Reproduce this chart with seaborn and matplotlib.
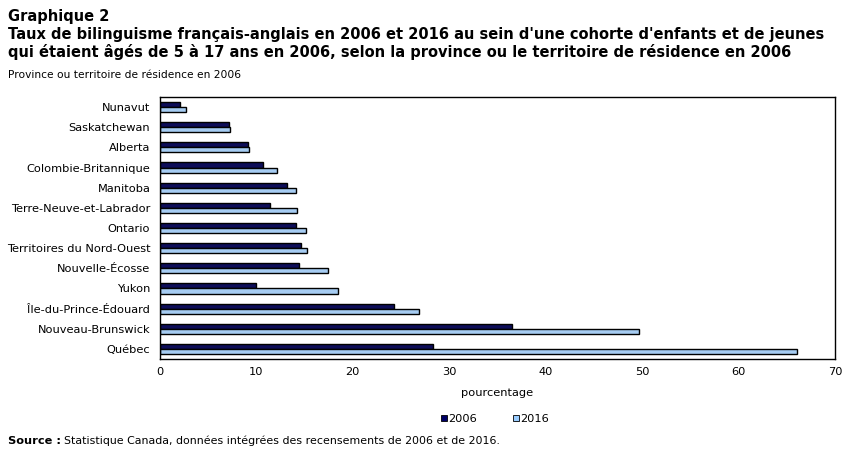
import matplotlib
matplotlib.use("Agg")
import matplotlib.pyplot as plt
import seaborn as sns
import pandas as pd
from matplotlib.ticker import MultipleLocator, FixedLocator
from matplotlib.lines import Line2D

regions = ["Nunavut", "Saskatchewan", "Alberta", "Colombie-Britannique", "Manitoba",
           "Terre-Neuve-et-Labrador", "Ontario", "Territoires du Nord-Ouest",
           "Nouvelle-Écosse", "Yukon", "Île-du-Prince-Édouard", "Nouveau-Brunswick", "Québec"]
val_2006 = [2.1, 7.2, 9.1, 10.7, 13.2, 11.4, 14.1, 14.6, 14.4, 10.0, 24.3, 36.5, 28.3]
val_2016 = [2.7, 7.3, 9.2, 12.1, 14.1, 14.2, 15.1, 15.2, 17.4, 18.5, 26.9, 49.7, 66.1]
years = ["2006", "2016"]
colors = ["#000066", "#99CCFF"]

df = pd.DataFrame({
    "region": regions * 2,
    "annee": [years[0]] * len(regions) + [years[1]] * len(regions),
    "valeur": val_2006 + val_2016,
})

sns.set_style("white")
plt.rcParams["font.family"] = ["DejaVu Sans"]
plt.rcParams["text.color"] = "black"
plt.rcParams["axes.labelcolor"] = "black"
plt.rcParams["xtick.color"] = "black"
plt.rcParams["ytick.color"] = "black"

fs = 8.2

fig = plt.figure(figsize=(8.51, 4.55), dpi=100)
ax = fig.add_axes([160 / 851, 1 - 359 / 455, (835 - 160) / 851, (359 - 97) / 455])

sns.barplot(data=df, y="region", x="valeur", hue="annee", hue_order=years,
            order=regions, palette=colors, orient="h", width=0.5,
            edgecolor="black", linewidth=1.0, ax=ax, legend=False)

ax.set_xlim(0, 70)
ax.set_ylim(len(regions) - 0.5, -0.5)
ax.xaxis.set_major_locator(MultipleLocator(10))
ax.set_xlabel("pourcentage", fontsize=fs, labelpad=8)
ax.set_ylabel("")
for s in ax.spines.values():
    s.set_color("black")
    s.set_linewidth(1.0)
ax.tick_params(axis="x", direction="in", length=4, width=0.8, labelsize=fs, pad=6)
ax.tick_params(axis="y", which="major", length=0, labelsize=fs, pad=7)
ax.yaxis.set_minor_locator(FixedLocator([i + 0.5 for i in range(len(regions) - 1)]))
ax.tick_params(axis="y", which="minor", direction="in", length=4, width=0.8)

handles = [Line2D([0], [0], marker="s", linestyle="none", markersize=5,
                  markerfacecolor=c, markeredgecolor="black", markeredgewidth=0.6)
           for c in colors]
fig.legend(handles, years, loc="center", bbox_to_anchor=(494 / 851, 1 - 419 / 455),
           ncol=2, frameon=False, fontsize=fs, handletextpad=0.0, columnspacing=3.0,
           handlelength=0.8)

tfs = 10.5
fig.text(8 / 851, 1 - 17 / 455, "Graphique 2", fontsize=tfs, fontweight="bold", va="center")
fig.text(8 / 851, 1 - 34 / 455,
         "Taux de bilinguisme français-anglais en 2006 et 2016 au sein d'une cohorte d'enfants et de jeunes",
         fontsize=tfs, fontweight="bold", va="center")
fig.text(8 / 851, 1 - 52 / 455,
         "qui étaient âgés de 5 à 17 ans en 2006, selon la province ou le territoire de résidence en 2006",
         fontsize=tfs, fontweight="bold", va="center")
fig.text(8 / 851, 1 - 75 / 455, "Province ou territoire de résidence en 2006", fontsize=7.7, va="center")
fig.text(8 / 851, 1 - 441 / 455, "Source :", fontsize=fs, fontweight="bold", va="center")
fig.text(64 / 851, 1 - 441 / 455,
         "Statistique Canada, données intégrées des recensements de 2006 et de 2016.",
         fontsize=7.9, va="center")

fig.savefig("out.png", dpi=100, facecolor="white")
